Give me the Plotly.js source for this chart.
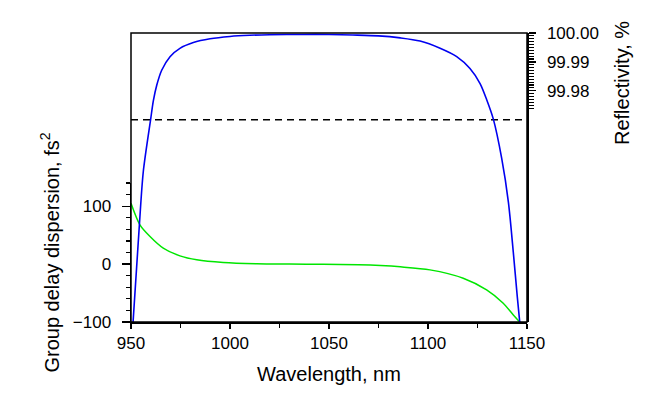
<!DOCTYPE html>
<html>
<head>
<meta charset="utf-8">
<script src="https://cdn.plot.ly/plotly-3.0.1.min.js"></script>
<style>html,body{margin:0;padding:0;background:#fff;}#chart{width:650px;height:404px;}</style>
</head>
<body>
<div id="chart"></div>
<script>
// Reflectivity (right axis, %)
const reflWavelength = [950.9, 954.2, 956.2, 959.9, 961.3, 963.0, 965.5, 969.7, 974.7, 981.5, 989.9, 1000, 1010, 1020, 1037, 1050, 1062, 1075, 1086, 1096, 1106.1, 1114.5, 1121.2, 1126.3, 1129.6, 1133.0, 1137.2, 1140.6, 1143.1, 1145.1, 1146.5];
const reflectivity = [99.8985, 99.9333, 99.952, 99.970, 99.9766, 99.9819, 99.9871, 99.9918, 99.9947, 99.9967, 99.9980, 99.9988, 99.9992, 99.9994, 99.9995, 99.9995, 99.9993, 99.9990, 99.9983, 99.9972, 99.9947, 99.9918, 99.9877, 99.9825, 99.9770, 99.9702, 99.9567, 99.9415, 99.9240, 99.9087, 99.8988];

// Group delay dispersion (left axis, fs^2)
const gddWavelength = [950.0, 954.5, 959.6, 966.3, 974.7, 983.2, 996.6, 1013.5, 1030, 1047, 1065, 1076, 1086, 1101, 1117.8, 1129.6, 1138.0, 1143.1, 1146.3];
const gdd = [105, 67.8, 47.6, 27.5, 14.2, 7.3, 2.6, 0.5, 0, -0.3, -1.2, -2.6, -4.8, -10, -24.4, -44.6, -67.6, -87.9, -100];

// Reference level (dashed)
const refLevelX = [950, 1150];
const refLevel = [99.97, 99.97];

// Tick definitions
const xTicks = [950, 1000, 1050, 1100, 1150];
const xMinorTicks = [975, 1025, 1075, 1125];
const gddTicks = [-100, 0, 100];
const gddMinorTicks = [-80, -60, -40, -20, 20, 40, 60, 80, 120, 140];
const reflTicks = [99.98, 99.99, 100.00];
const reflMinorTicks = [99.974, 99.975, 99.976, 99.977, 99.978, 99.979, 99.981, 99.982, 99.983, 99.984, 99.985, 99.986, 99.987, 99.988, 99.989, 99.991, 99.992, 99.993, 99.994, 99.995, 99.996, 99.997, 99.998, 99.999];

const FONT = 'Liberation Sans, Arial, sans-serif';

const traces = [
  {x: refLevelX, y: refLevel, yaxis: 'y2', mode: 'lines', line: {color: '#000', width: 1.5, dash: '7px,5px'}, hoverinfo: 'skip'},
  {x: gddWavelength, y: gdd, yaxis: 'y', mode: 'lines', line: {color: '#00e600', width: 1.5, shape: 'spline', smoothing: 0.8}},
  {x: reflWavelength, y: reflectivity, yaxis: 'y2', mode: 'lines', line: {color: '#0000f0', width: 1.6, shape: 'spline', smoothing: 0.8}}
];

const layout = {
  width: 650, height: 404,
  margin: {l: 131, r: 123, t: 33, b: 82},
  paper_bgcolor: '#fff', plot_bgcolor: 'rgba(0,0,0,0)',
  showlegend: false,
  font: {family: FONT, size: 17, color: '#000'},
  xaxis: {
    range: [950, 1150], tickvals: xTicks, ticks: 'outside', ticklen: 5, tickwidth: 1.3, tickcolor: '#000',
    minor: {tickvals: xMinorTicks, ticks: 'outside', ticklen: 4, tickwidth: 1.3, tickcolor: '#000'},
    showline: true, linecolor: '#000', linewidth: 1.5, showgrid: false, zeroline: false,
    tickfont: {family: FONT, size: 17, color: '#000'},
    title: {text: 'Wavelength, nm', font: {family: FONT, size: 20, color: '#000'}, standoff: 15}
  },
  yaxis: {
    domain: [0, 0.481], range: [-100, 140], tickvals: gddTicks, ticks: 'outside', ticklen: 8, tickwidth: 1.3, tickcolor: '#000',
    minor: {tickvals: gddMinorTicks, ticks: 'outside', ticklen: 4, tickwidth: 1.3, tickcolor: '#000'},
    showline: true, linecolor: '#000', linewidth: 1.5, showgrid: false, zeroline: false,
    tickfont: {family: FONT, size: 17, color: '#000'}, ticklabelstandoff: 7,
    title: {text: 'Group delay dispersion, fs<sup>2</sup>', font: {family: FONT, size: 20, color: '#000'}, standoff: 8}
  },
  yaxis2: {
    domain: [0, 1], anchor: 'x', side: 'right', range: [99.9, 100.0], tickvals: reflTicks, tickformat: '.2f',
    ticks: 'outside', ticklen: 7, tickwidth: 1.3, tickcolor: '#000',
    minor: {tickvals: reflMinorTicks, ticks: 'outside', ticklen: 5, tickwidth: 1.1, tickcolor: '#000'},
    showline: true, linecolor: '#000', linewidth: 1.5, showgrid: false, zeroline: false,
    tickfont: {family: FONT, size: 17, color: '#000'}, ticklabelstandoff: 8
  },
  shapes: [
    {type: 'rect', xref: 'paper', yref: 'paper', x0: 0, x1: 1, y0: 0, y1: 1, line: {color: '#000', width: 1.5}, layer: 'above'}
  ],
  annotations: [
    {text: 'Reflectivity, %', xref: 'paper', yref: 'paper', x: 1.24, y: 0.827, textangle: -90,
     xanchor: 'center', yanchor: 'middle', showarrow: false, font: {family: FONT, size: 20, color: '#000'}}
  ]
};

Plotly.newPlot('chart', traces, layout, {displayModeBar: false, staticPlot: true});
</script>
</body>
</html>
